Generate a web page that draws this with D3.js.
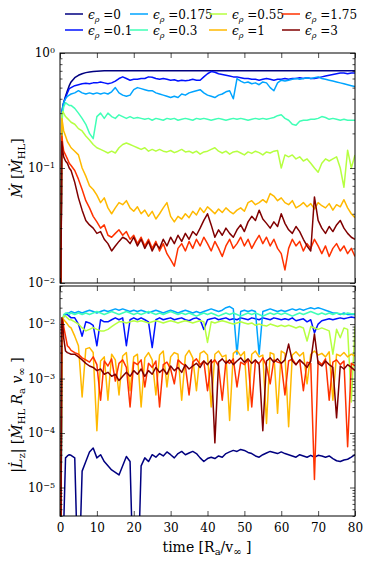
<!DOCTYPE html>
<html>
<head>
<meta charset="utf-8">
<script src="https://cdn.jsdelivr.net/npm/d3@7/dist/d3.min.js"></script>
<style>
  body { margin: 0; background: #fff; }
  text { font-family: "DejaVu Serif", "Liberation Serif", serif; fill: #000; }
</style>
</head>
<body>
<script>
// sample times [R_a / v_inf]
const times = [0, 0.25, 0.5, 0.75, 1, 1.5, 2, 2.5, 3,
  4, 5, 6, 7, 8, 9, 10, 11, 12, 13, 14, 15, 16, 17, 18, 19, 20,
  21, 22, 23, 24, 25, 26, 27, 28, 29, 30, 31, 32, 33, 34, 35, 36, 37, 38, 39, 40,
  41, 42, 43, 44, 45, 46, 47, 48, 49, 50, 51, 52, 53, 54, 55, 56, 57, 58, 59, 60,
  61, 62, 63, 64, 65, 66, 67, 68, 69, 70, 71, 72, 73, 74, 75, 76, 77, 78, 79, 80];

// legend labels (epsilon_rho)
const epsLabels = ['0', '0.1', '0.175', '0.3', '0.55', '1', '1.75', '3'];

// accretion rate, Mdot / Mdot_HL
const mdot0 = [1e-3, 0.01, 0.3, 0.34, 0.37, 0.42, 0.47, 0.52, 0.56,
  0.61, 0.64, 0.66, 0.675, 0.685, 0.69, 0.695, 0.698, 0.70, 0.70, 0.70, 0.70, 0.70, 0.70, 0.70, 0.70, 0.70,
  0.70, 0.70, 0.70, 0.70, 0.70, 0.70, 0.70, 0.70, 0.70, 0.70, 0.70, 0.70, 0.70, 0.70, 0.70, 0.70, 0.70, 0.70, 0.70, 0.70,
  0.70, 0.70, 0.70, 0.70, 0.70, 0.70, 0.70, 0.70, 0.70, 0.70, 0.70, 0.70, 0.70, 0.70, 0.70, 0.70, 0.70, 0.70, 0.70, 0.70,
  0.70, 0.70, 0.70, 0.70, 0.70, 0.70, 0.70, 0.70, 0.70, 0.70, 0.70, 0.70, 0.70, 0.70, 0.70, 0.70, 0.70, 0.70, 0.70, 0.70];
const mdot01 = [1e-3, 0.01, 0.3, 0.34, 0.37, 0.41, 0.45, 0.49, 0.5,
  0.52, 0.53, 0.54, 0.545, 0.54, 0.55, 0.55, 0.56, 0.55, 0.54, 0.55, 0.57, 0.6, 0.62, 0.6, 0.58, 0.59,
  0.59, 0.6, 0.6, 0.62, 0.615, 0.6, 0.59, 0.6, 0.59, 0.58, 0.585, 0.57, 0.58, 0.575, 0.58, 0.59, 0.58, 0.58, 0.62, 0.66,
  0.69, 0.68, 0.66, 0.65, 0.64, 0.63, 0.62, 0.62, 0.61, 0.6, 0.6, 0.59, 0.59, 0.58, 0.59, 0.6, 0.59, 0.58, 0.59, 0.59,
  0.6, 0.59, 0.6, 0.6, 0.61, 0.6, 0.61, 0.6, 0.6, 0.61, 0.62, 0.63, 0.64, 0.65, 0.66, 0.67, 0.67, 0.66, 0.67, 0.67];
const mdot0175 = [1e-3, 0.01, 0.3, 0.34, 0.37, 0.4, 0.42, 0.43, 0.44,
  0.45, 0.47, 0.45, 0.44, 0.45, 0.44, 0.45, 0.44, 0.45, 0.44, 0.46, 0.5, 0.45, 0.43, 0.42, 0.43, 0.48,
  0.5, 0.49, 0.48, 0.47, 0.47, 0.45, 0.44, 0.43, 0.42, 0.41, 0.42, 0.41, 0.44, 0.43, 0.45, 0.46, 0.47, 0.48, 0.45, 0.43,
  0.42, 0.41, 0.43, 0.44, 0.46, 0.47, 0.40, 0.6, 0.57, 0.55, 0.56, 0.54, 0.55, 0.53, 0.56, 0.55, 0.5, 0.47, 0.55, 0.58,
  0.57, 0.58, 0.59, 0.6, 0.59, 0.6, 0.61, 0.6, 0.61, 0.62, 0.6, 0.59, 0.58, 0.57, 0.56, 0.55, 0.54, 0.53, 0.52, 0.51];
const mdot03 = [1e-3, 0.01, 0.25, 0.3, 0.34, 0.37, 0.36, 0.35, 0.35,
  0.33, 0.3, 0.27, 0.24, 0.2, 0.18, 0.28, 0.3, 0.27, 0.3, 0.28, 0.27, 0.29, 0.28, 0.27, 0.28, 0.27,
  0.275, 0.27, 0.265, 0.27, 0.26, 0.27, 0.265, 0.26, 0.27, 0.265, 0.27, 0.26, 0.265, 0.27, 0.265, 0.26, 0.27, 0.265, 0.27, 0.265,
  0.26, 0.265, 0.27, 0.265, 0.26, 0.265, 0.27, 0.265, 0.27, 0.265, 0.26, 0.265, 0.27, 0.265, 0.27, 0.265, 0.27, 0.275, 0.285, 0.29,
  0.27, 0.26, 0.24, 0.235, 0.255, 0.26, 0.26, 0.265, 0.265, 0.27, 0.28, 0.275, 0.265, 0.27, 0.265, 0.26, 0.265, 0.26, 0.26, 0.26];
const mdot055 = [1e-3, 0.01, 0.29, 0.31, 0.3, 0.28, 0.27, 0.26, 0.25,
  0.24, 0.22, 0.21, 0.19, 0.175, 0.16, 0.15, 0.145, 0.14, 0.135, 0.14, 0.135, 0.15, 0.16, 0.165, 0.16, 0.155,
  0.15, 0.145, 0.15, 0.14, 0.145, 0.14, 0.145, 0.14, 0.138, 0.142, 0.136, 0.14, 0.145, 0.138, 0.14, 0.135, 0.14, 0.132, 0.138, 0.14,
  0.145, 0.15, 0.14, 0.135, 0.14, 0.132, 0.138, 0.14, 0.135, 0.13, 0.138, 0.134, 0.14, 0.136, 0.13, 0.138, 0.135, 0.14, 0.142, 0.1,
  0.13, 0.125, 0.13, 0.12, 0.125, 0.115, 0.12, 0.11, 0.1, 0.092, 0.11, 0.12, 0.115, 0.12, 0.125, 0.1, 0.068, 0.143, 0.1, 0.13];
const mdot1 = [1e-3, 0.01, 0.27, 0.24, 0.21, 0.19, 0.17, 0.16, 0.15,
  0.14, 0.13, 0.1, 0.085, 0.07, 0.065, 0.058, 0.05, 0.055, 0.045, 0.04, 0.045, 0.05, 0.048, 0.052, 0.045, 0.042,
  0.046, 0.04, 0.043, 0.038, 0.042, 0.036, 0.04, 0.045, 0.05, 0.038, 0.034, 0.038, 0.036, 0.04, 0.037, 0.042, 0.039, 0.045, 0.041, 0.046,
  0.043, 0.04, 0.044, 0.041, 0.045, 0.042, 0.04, 0.043, 0.045, 0.042, 0.05, 0.052, 0.048, 0.05, 0.053, 0.05, 0.06, 0.057, 0.052, 0.055,
  0.05, 0.048, 0.052, 0.045, 0.047, 0.05, 0.046, 0.049, 0.044, 0.05, 0.047, 0.045, 0.049, 0.043, 0.048, 0.046, 0.053, 0.045, 0.04, 0.037];
const mdot175 = [1e-3, 0.01, 0.19, 0.16, 0.14, 0.13, 0.12, 0.11, 0.105,
  0.095, 0.08, 0.065, 0.052, 0.045, 0.038, 0.034, 0.03, 0.032, 0.026, 0.025, 0.027, 0.029, 0.026, 0.028, 0.024, 0.026,
  0.022, 0.025, 0.021, 0.024, 0.02, 0.023, 0.019, 0.022, 0.018, 0.016, 0.014, 0.02, 0.022, 0.019, 0.023, 0.02, 0.024, 0.021, 0.025, 0.022,
  0.019, 0.023, 0.02, 0.017, 0.021, 0.024, 0.02, 0.022, 0.025, 0.021, 0.024, 0.02, 0.023, 0.026, 0.022, 0.025, 0.021, 0.024, 0.02, 0.018,
  0.013, 0.02, 0.024, 0.021, 0.023, 0.019, 0.022, 0.02, 0.024, 0.021, 0.018, 0.021, 0.017, 0.02, 0.022, 0.019, 0.021, 0.018, 0.02, 0.017];
const mdot3 = [1e-3, 0.01, 0.17, 0.14, 0.125, 0.115, 0.11, 0.1, 0.095,
  0.075, 0.055, 0.043, 0.035, 0.032, 0.03, 0.027, 0.028, 0.024, 0.022, 0.019, 0.021, 0.023, 0.025, 0.024, 0.022, 0.025,
  0.021, 0.024, 0.02, 0.023, 0.019, 0.022, 0.02, 0.024, 0.021, 0.025, 0.022, 0.026, 0.023, 0.027, 0.024, 0.028, 0.026, 0.03, 0.035, 0.04,
  0.032, 0.025, 0.029, 0.026, 0.03, 0.027, 0.025, 0.029, 0.032, 0.028, 0.034, 0.038, 0.035, 0.043, 0.036, 0.033, 0.03, 0.034, 0.031, 0.04,
  0.033, 0.029, 0.027, 0.031, 0.028, 0.024, 0.021, 0.019, 0.056, 0.035, 0.03, 0.027, 0.031, 0.028, 0.032, 0.035, 0.03, 0.027, 0.025, 0.024];

// angular momentum accretion, |Ldot_z| / (Mdot_HL R_a v_inf)
const ldot0 = [1e-7, 1e-7, 1e-7, 1e-7, 2e-6, 3.5e-5, 3.8e-5, 4e-5, 3.9e-5,
  3.5e-5, 1e-7, 2e-5, 3e-5, 4.5e-5, 5.3e-5, 3.5e-5, 4e-5, 3e-5, 2.5e-5, 2.1e-5, 1.9e-5, 1.7e-5, 2.5e-5, 3.7e-5, 3e-5, 1e-7,
  1e-7, 2.5e-5, 3.5e-5, 3e-5, 4e-5, 3.6e-5, 4.2e-5, 3.8e-5, 4.5e-5, 4e-5, 3.5e-5, 4.2e-5, 4.6e-5, 4e-5, 4.3e-5, 4.6e-5, 4.2e-5, 3.5e-5, 3e-5, 3.4e-5,
  3.6e-5, 3.4e-5, 3.8e-5, 3.6e-5, 4.2e-5, 4.5e-5, 4.8e-5, 4.6e-5, 5e-5, 4.8e-5, 4.4e-5, 4.2e-5, 3.8e-5, 3.6e-5, 4e-5, 4.3e-5, 4.6e-5, 4.4e-5, 4.2e-5, 4.5e-5,
  4.2e-5, 4e-5, 3.8e-5, 3.6e-5, 4e-5, 3.8e-5, 3.6e-5, 3.9e-5, 3.6e-5, 3.9e-5, 3.8e-5, 3.6e-5, 3.8e-5, 3.4e-5, 3.1e-5, 3e-5, 3.2e-5, 3.3e-5, 3.6e-5, 4e-5];
const ldot01 = [1e-7, 1e-6, 0.004, 0.012, 0.014, 0.015, 0.015, 0.014, 0.013,
  0.013, 0.01, 0.006, 0.011, 0.0105, 0.0095, 0.004, 0.012, 0.011, 0.011, 0.012, 0.013, 0.012, 0.013, 0.004, 0.012, 0.013,
  0.012, 0.013, 0.012, 0.011, 0.0037, 0.012, 0.013, 0.012, 0.0125, 0.013, 0.012, 0.0125, 0.013, 0.012, 0.0115, 0.0125, 0.013, 0.012, 0.008, 0.012,
  0.0125, 0.013, 0.012, 0.0125, 0.013, 0.012, 0.0125, 0.012, 0.013, 0.0125, 0.012, 0.013, 0.0125, 0.012, 0.013, 0.0125, 0.012, 0.013, 0.0125, 0.012,
  0.0125, 0.012, 0.013, 0.0115, 0.012, 0.0125, 0.011, 0.012, 0.0069, 0.01, 0.0115, 0.012, 0.0125, 0.012, 0.0125, 0.013, 0.0125, 0.013, 0.0135, 0.013];
const ldot0175 = [1e-7, 1e-6, 0.003, 0.011, 0.014, 0.015, 0.016, 0.016, 0.017,
  0.016, 0.017, 0.016, 0.017, 0.018, 0.017, 0.016, 0.017, 0.018, 0.017, 0.018, 0.019, 0.018, 0.019, 0.018, 0.017, 0.018,
  0.017, 0.018, 0.017, 0.016, 0.017, 0.018, 0.017, 0.016, 0.017, 0.018, 0.017, 0.016, 0.017, 0.018, 0.017, 0.016, 0.017, 0.016, 0.017, 0.018,
  0.019, 0.018, 0.017, 0.018, 0.02, 0.021, 0.019, 0.0028, 0.017, 0.018, 0.017, 0.018, 0.017, 0.0028, 0.017, 0.018, 0.019, 0.018, 0.017, 0.018,
  0.017, 0.018, 0.019, 0.018, 0.019, 0.018, 0.019, 0.02, 0.019, 0.02, 0.019, 0.018, 0.017, 0.016, 0.016, 0.015, 0.016, 0.015, 0.015, 0.015];
const ldot03 = [1e-7, 1e-6, 0.004, 0.012, 0.015, 0.016, 0.016, 0.015, 0.016,
  0.015, 0.016, 0.015, 0.016, 0.015, 0.016, 0.017, 0.016, 0.015, 0.016, 0.017, 0.016, 0.015, 0.016, 0.017, 0.016, 0.015,
  0.016, 0.015, 0.016, 0.017, 0.016, 0.015, 0.016, 0.015, 0.016, 0.017, 0.016, 0.015, 0.016, 0.015, 0.016, 0.015, 0.014, 0.015, 0.016, 0.015,
  0.016, 0.015, 0.014, 0.015, 0.016, 0.015, 0.016, 0.015, 0.014, 0.015, 0.016, 0.015, 0.016, 0.015, 0.014, 0.015, 0.016, 0.015, 0.016, 0.015,
  0.016, 0.015, 0.014, 0.015, 0.016, 0.015, 0.016, 0.017, 0.016, 0.015, 0.016, 0.015, 0.016, 0.015, 0.016, 0.0155, 0.015, 0.016, 0.0155, 0.0155];
const ldot055 = [1e-7, 1e-6, 0.005, 0.012, 0.014, 0.014, 0.013, 0.012, 0.012,
  0.011, 0.01, 0.0085, 0.0075, 0.008, 0.0086, 0.008, 0.0075, 0.0075, 0.008, 0.009, 0.01, 0.011, 0.011, 0.0105, 0.011, 0.0115,
  0.011, 0.0115, 0.011, 0.0105, 0.011, 0.0115, 0.011, 0.0105, 0.011, 0.0115, 0.011, 0.0105, 0.011, 0.0115, 0.011, 0.0105, 0.011, 0.0115, 0.011, 0.0046,
  0.011, 0.0105, 0.011, 0.0115, 0.011, 0.0105, 0.01, 0.0105, 0.011, 0.0105, 0.01, 0.0105, 0.0095, 0.01, 0.0095, 0.0092, 0.01, 0.0095, 0.009, 0.0095,
  0.009, 0.0095, 0.009, 0.0085, 0.009, 0.0085, 0.0049, 0.009, 0.0085, 0.008, 0.0085, 0.008, 0.0075, 0.0028, 0.008, 0.0056, 0.0085, 0.008, 0.00037, 0.009];
const ldot1 = [1e-7, 1e-6, 0.008, 0.013, 0.012, 0.011, 0.01, 0.009, 0.0085,
  0.006, 0.004, 0.00046, 0.0035, 0.0037, 0.003, 0.00011, 0.0021, 0.0025, 0.0004, 0.0028, 0.0022, 0.0005, 0.0026, 0.003, 0.0006, 0.0025,
  0.0028, 0.0003, 0.0024, 0.003, 0.0022, 0.0005, 0.0027, 0.0032, 0.0007, 0.0025, 0.003, 0.0028, 0.0004, 0.0026, 0.0033, 0.0024, 0.0006, 0.0029, 0.0032, 0.0027,
  0.0003, 0.0028, 0.0032, 0.0025, 0.0027, 0.00017, 0.0029, 0.0033, 0.0026, 0.0031, 0.00026, 0.0028, 0.0032, 0.0025, 0.0027, 0.00015, 0.003, 0.0028, 0.00023, 0.0032,
  0.0029, 0.00013, 0.0027, 0.0031, 0.0026, 0.003, 0.0008, 0.0028, 0.0032, 0.0027, 0.0029, 0.0025, 0.0031, 0.0004, 0.0028, 0.0026, 0.003, 0.0025, 0.0028, 0.0026];
const ldot175 = [1e-7, 1e-6, 0.011, 0.012, 0.009, 0.006, 0.004, 0.0037, 0.0033,
  0.003, 0.0028, 0.0024, 0.0022, 0.002, 0.0025, 0.0018, 0.0004, 0.0021, 0.0017, 0.0023, 0.0009, 0.0019, 0.0022, 0.0016, 0.0003, 0.002,
  0.0018, 0.0022, 0.0007, 0.0019, 0.0016, 0.0021, 0.0003, 0.0018, 0.002, 0.0015, 0.0008, 0.0022, 0.0019, 0.0017, 0.0005, 0.002, 0.0023, 0.0018, 0.0021, 0.0006,
  0.0019, 0.0022, 0.0017, 0.0004, 0.0021, 0.0019, 0.0023, 0.0007, 0.002, 0.0018, 0.0022, 0.0003, 0.0021, 0.0019, 0.0024, 0.0017, 0.0008, 0.0022, 0.002, 0.0019,
  0.0005, 0.0021, 0.0023, 0.0018, 0.0022, 0.0006, 0.002, 0.0019, 1.4e-5, 0.0021, 0.0018, 0.0023, 0.0004, 0.002, 0.0022, 0.0018, 0.0021, 5.6e-5, 0.0019, 0.0017];
const ldot3 = [1e-7, 1e-6, 0.013, 0.01, 0.0056, 0.0032, 0.003, 0.0029, 0.0028,
  0.0028, 0.0025, 0.0022, 0.0019, 0.0017, 0.0016, 0.0014, 0.0015, 0.0012, 0.0013, 0.0011, 0.0012, 0.00092, 0.0011, 0.0013, 0.0011, 0.0014,
  0.0012, 0.0015, 0.0011, 0.0014, 0.0012, 0.0016, 0.0013, 0.0015, 0.0012, 0.0017, 0.0014, 0.0016, 0.0013, 0.0018, 0.0015, 0.0017, 0.0019, 0.0016, 0.0021, 0.0018,
  0.0022, 6.6e-5, 0.002, 0.0023, 0.0019, 0.0022, 0.0018, 0.0021, 0.0024, 0.002, 0.0023, 0.0019, 0.0022, 0.0018, 0.00011, 0.0021, 0.0024, 0.002, 0.0023, 0.0019,
  0.0022, 0.0043, 0.0021, 0.0018, 0.0022, 0.0019, 0.0016, 0.0021, 0.0066, 0.0019, 0.0017, 0.0021, 0.0018, 0.0016, 0.00019, 0.0017, 0.0015, 0.0018, 0.0016, 0.0014];

// jet colormap, one colour per run
const colors = ['#000080', '#0012ff', '#00a4ff', '#41ffb6', '#b6ff41', '#ffb900', '#ff3200', '#800000'];

const mdotSeries = [mdot0, mdot01, mdot0175, mdot03, mdot055, mdot1, mdot175, mdot3];
const ldotSeries = [ldot0, ldot01, ldot0175, ldot03, ldot055, ldot1, ldot175, ldot3];

const width = 374, height = 561;
const left = 60, right = 355;

const x = d3.scaleLinear().domain([0, 80]).range([left, right]);
const yTop = d3.scaleLog().domain([1e-2, 1]).range([283, 53]);
const yBot = d3.scaleLog().domain([3e-6, 5e-2]).range([516, 286]);

const svg = d3.select('body').append('svg')
  .attr('width', width)
  .attr('height', height);

const isPow = d => Math.abs(Math.log10(d) - Math.round(Math.log10(d))) < 1e-6;

function powLabel(sel) {
  sel.each(function (d) {
    const t = d3.select(this).text('');
    t.append('tspan').text('10');
    t.append('tspan')
      .attr('dy', '-0.5em')
      .style('font-size', '8px')
      .text(String(Math.round(Math.log10(d))).replace('-', '\u2212'));
  });
}

function panel(y, series, id, showX) {
  const [y0, y1] = y.range();

  // clip to the axes box
  svg.append('clipPath').attr('id', id)
    .append('rect')
    .attr('x', left).attr('y', y1)
    .attr('width', right - left).attr('height', y0 - y1);

  const line = d3.line()
    .x((d, i) => x(times[i]))
    .y(d => y(Math.max(d, 1e-9)));

  svg.append('g')
    .attr('clip-path', `url(#${id})`)
    .selectAll('path')
    .data(series)
    .join('path')
    .attr('fill', 'none')
    .attr('stroke', (d, i) => colors[i])
    .attr('stroke-width', 1.5)
    .attr('stroke-linejoin', 'round')
    .attr('d', line);

  const majors = y.ticks().filter(isPow);
  const minors = y.ticks().filter(d => !isPow(d));

  // y axes, ticks pointing inwards
  svg.append('g')
    .attr('transform', `translate(${left},0)`)
    .call(d3.axisLeft(y).tickValues(majors).tickSize(-5).tickSizeOuter(0).tickPadding(5))
    .call(g => g.selectAll('text').style('font-size', '12px').call(powLabel));
  svg.append('g')
    .attr('transform', `translate(${left},0)`)
    .call(d3.axisLeft(y).tickValues(minors).tickSize(-2.5).tickSizeOuter(0).tickFormat(''));
  svg.append('g')
    .attr('transform', `translate(${right},0)`)
    .call(d3.axisRight(y).tickValues(majors).tickSize(-5).tickSizeOuter(0).tickFormat(''));
  svg.append('g')
    .attr('transform', `translate(${right},0)`)
    .call(d3.axisRight(y).tickValues(minors).tickSize(-2.5).tickSizeOuter(0).tickFormat(''));

  // x axes
  svg.append('g')
    .attr('transform', `translate(0,${y1})`)
    .call(d3.axisTop(x).ticks(8).tickSize(-5).tickSizeOuter(0).tickFormat(''));
  const xb = svg.append('g')
    .attr('transform', `translate(0,${y0})`)
    .call(d3.axisBottom(x).ticks(8).tickSize(-5).tickSizeOuter(0).tickPadding(7));
  if (showX) xb.selectAll('text').style('font-size', '12px');
  else xb.selectAll('text').remove();

  svg.selectAll('.domain').remove();
  svg.selectAll('.tick line').attr('stroke', '#000').attr('stroke-width', 0.7);

  // frame
  svg.append('rect')
    .attr('x', left).attr('y', y1)
    .attr('width', right - left).attr('height', y0 - y1)
    .attr('fill', 'none')
    .attr('stroke', '#000')
    .attr('stroke-width', 1);
}

panel(yTop, mdotSeries, 'clipTop', false);
panel(yBot, ldotSeries, 'clipBot', true);

// x axis title
const xt = svg.append('text')
  .attr('x', 207).attr('y', 552)
  .attr('text-anchor', 'middle')
  .style('font-size', '14px');
xt.append('tspan').text('time [R');
xt.append('tspan').attr('dy', 3).style('font-size', '10px').text('a');
xt.append('tspan').attr('dy', -3).text('/v');
xt.append('tspan').attr('dy', 3).style('font-size', '10px').text('\u221e');
xt.append('tspan').attr('dy', -3).text(' ]');

// y axis titles
const yt1 = svg.append('text')
  .attr('transform', 'translate(22,168) rotate(-90)')
  .attr('text-anchor', 'middle')
  .style('font-size', '14px');
yt1.append('tspan').style('font-style', 'italic').text('\u1e40');
yt1.append('tspan').text(' [');
yt1.append('tspan').style('font-style', 'italic').text('\u1e40');
yt1.append('tspan').attr('dy', 3).style('font-size', '10px').text('HL');
yt1.append('tspan').attr('dy', -3).text(']');

const yt2 = svg.append('text')
  .attr('transform', 'translate(22,415) rotate(-90)')
  .attr('text-anchor', 'middle')
  .style('font-size', '14px');
yt2.append('tspan').text('|');
yt2.append('tspan').style('font-style', 'italic').text('L\u0307');
yt2.append('tspan').attr('dy', 3).style('font-size', '10px').text('z');
yt2.append('tspan').attr('dy', -3).text('| [');
yt2.append('tspan').style('font-style', 'italic').text('\u1e40');
yt2.append('tspan').attr('dy', 3).style('font-size', '10px').text('HL');
yt2.append('tspan').attr('dy', -3).style('font-style', 'italic').text(' R');
yt2.append('tspan').attr('dy', 3).style('font-size', '10px').text('a');
yt2.append('tspan').attr('dy', -3).style('font-style', 'italic').text(' v');
yt2.append('tspan').attr('dy', 3).style('font-size', '10px').text('\u221e');
yt2.append('tspan').attr('dy', -3).text(' ]');

// legend, two rows of four
const legX = [65, 130, 209, 282];
const legY = [14, 30];
const leg = svg.append('g').selectAll('g')
  .data(epsLabels)
  .join('g')
  .attr('transform', (d, i) => `translate(${legX[Math.floor(i / 2)]},${legY[i % 2]})`);
leg.append('line')
  .attr('x1', 0).attr('x2', 18)
  .attr('stroke', (d, i) => colors[i])
  .attr('stroke-width', 1.5);
const lt = leg.append('text')
  .attr('x', 23).attr('y', 4.5)
  .style('font-size', '12px');
lt.append('tspan').style('font-style', 'italic').text('\u03f5');
lt.append('tspan').attr('dy', 3).style('font-size', '8px').style('font-style', 'italic').text('\u03c1');
lt.append('tspan').attr('dy', -3).text(d => ' =' + d);
</script>
</body>
</html>
